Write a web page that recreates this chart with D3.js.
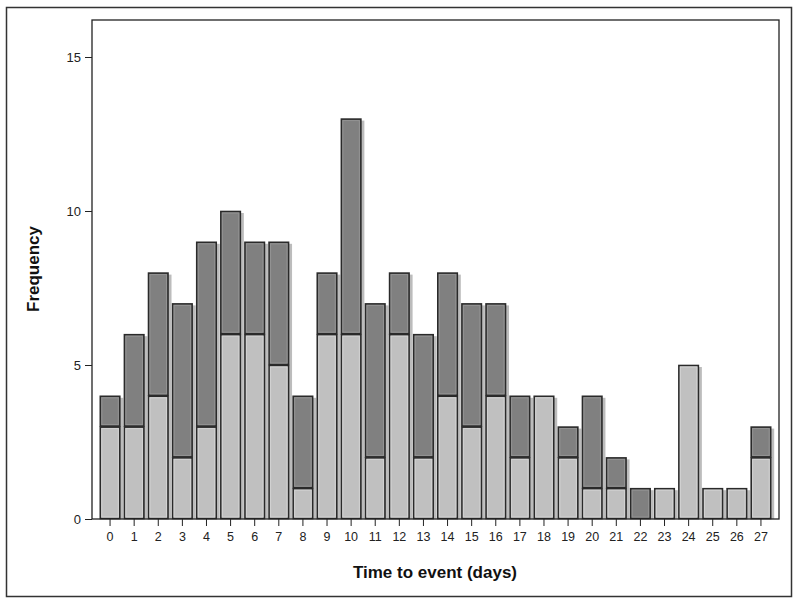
<!DOCTYPE html>
<html><head><meta charset="utf-8">
<script src="https://cdn.jsdelivr.net/npm/d3@7"></script>
<style>body{margin:0;background:#fff}svg{display:block}text{font-family:"Liberation Sans",Arial,sans-serif}</style>
</head><body><svg id="c" width="800" height="604"></svg>
<script>
const days = d3.range(0, 28);
const totals = [4,6,8,7,9,10,9,9,4,8,13,7,8,6,8,7,7,4,4,3,4,2,1,1,5,1,1,3];
const lower  = [3,3,4,2,3,6,6,5,1,6,6,2,6,2,4,3,4,2,4,2,1,1,0,1,5,1,1,2];
const yTicks = [0,5,10,15];

const svg = d3.select("#c");
svg.append("rect").attr("x",6.5).attr("y",7.5).attr("width",785).attr("height",589)
  .attr("fill","none").attr("stroke","#333").attr("stroke-width",1.5);

const L=92, R=779, T=20, B=519;
const x = d3.scaleBand().domain(days).range([98,773]).paddingInner(0.15).paddingOuter(0.075);
const y = d3.scaleLinear().domain([0,15]).range([B,57]);

const data = days.map((d,i)=>({d, lo:lower[i], tot:totals[i]}));
const g = svg.append("g");
const bw = x.bandwidth();

g.selectAll(".sh").data(data).join("rect")
  .attr("x",d=>x(d.d)+3).attr("y",d=>y(d.tot)+2)
  .attr("width",bw).attr("height",d=>B-y(d.tot)-2)
  .attr("fill","#bcbcbc");

function seg(cls, y0f, y1f, fill, inner){
  const s = g.selectAll("."+cls).data(data.filter(d=>y1f(d)>y0f(d))).join("g");
  s.append("rect").attr("x",d=>x(d.d)+0.5).attr("y",d=>y(y1f(d))+0.5)
    .attr("width",bw-1).attr("height",d=>y(y0f(d))-y(y1f(d))-1)
    .attr("fill",fill).attr("stroke","#2a2a2a").attr("stroke-width",1.6);
  s.append("rect").attr("x",d=>x(d.d)+2).attr("y",d=>y(y1f(d))+2)
    .attr("width",bw-4).attr("height",d=>Math.max(0,y(y0f(d))-y(y1f(d))-4))
    .attr("fill","none").attr("stroke",inner).attr("stroke-width",1);
}
seg("lo", d=>0, d=>d.lo, "#c0c0c0", "#d2d2d2");
seg("hi", d=>d.lo, d=>d.tot, "#808080", "#939393");

svg.append("rect").attr("x",L).attr("y",T).attr("width",R-L).attr("height",B-T)
  .attr("fill","none").attr("stroke","#222").attr("stroke-width",1.3);

const ya = svg.append("g").attr("transform",`translate(${L},0)`)
  .call(d3.axisLeft(y).tickValues(yTicks).tickSize(7).tickPadding(4));
ya.select(".domain").remove();
ya.selectAll("line").attr("stroke","#222");
ya.selectAll("text").attr("font-size",13).attr("fill","#222").attr("font-family","Liberation Sans, Arial");

const xa = svg.append("g").attr("transform",`translate(0,${B})`)
  .call(d3.axisBottom(x).tickSize(7).tickPadding(6));
xa.select(".domain").remove();
xa.selectAll("line").attr("stroke","#222");
xa.selectAll("text").attr("font-size",12.5).attr("fill","#222").attr("font-family","Liberation Sans, Arial");

svg.append("text").attr("x",435).attr("y",578).attr("text-anchor","middle")
  .attr("font-size",17).attr("font-weight","bold").attr("fill","#111").text("Time to event (days)");
svg.append("text").attr("transform","translate(39,269) rotate(-90)").attr("text-anchor","middle")
  .attr("font-size",17).attr("font-weight","bold").attr("fill","#111").text("Frequency");
</script></body></html>
